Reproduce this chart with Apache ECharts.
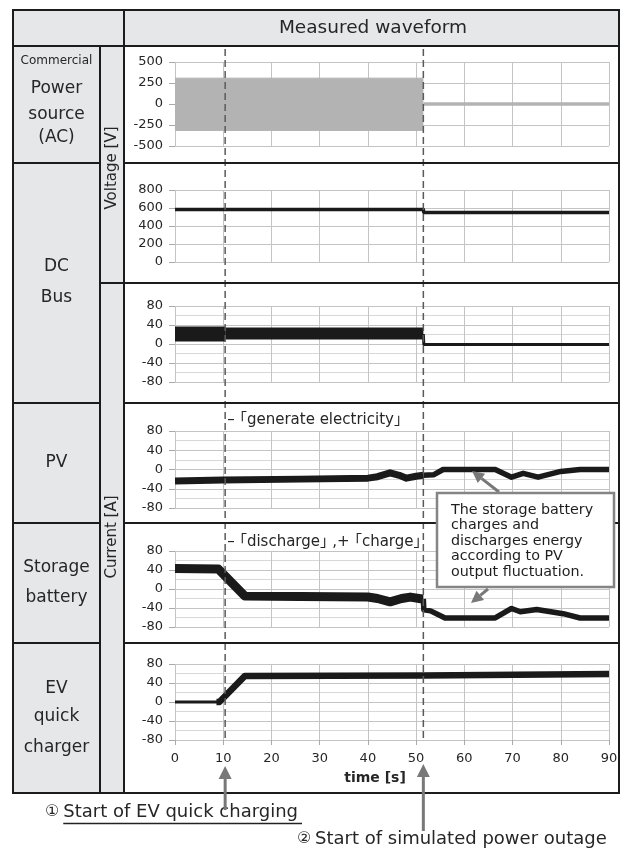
<!DOCTYPE html>
<html>
<head>
<meta charset="utf-8">
<title>Measured waveform</title>
<script src="https://cdn.jsdelivr.net/npm/echarts@6.0.0/dist/echarts.min.js"></script>
<style>
  html, body { margin: 0; padding: 0; background: #fff; }
  #chart { width: 625px; height: 849px; }
</style>
</head>
<body>
<div id="chart"></div>
<script>
// ---- data (time in s) ----
const timeTicks = [0, 10, 20, 30, 40, 50, 60, 70, 80, 90];
const evStartTime = 10.4;   // (1) start of EV quick charging
const outageTime = 51.5;    // (2) start of simulated power outage

const voltAcTicks = [-500, -250, 0, 250, 500];
const voltDcTicks = [0, 200, 400, 600, 800];
const currentTicks = [-80, -40, 0, 40, 80];

// commercial power source, AC voltage envelope [V] (grid on)
const acTime = [0, 51.5];
const acUpper = [308, 308];
const acLower = [-315, -315];
// residual AC voltage after the outage [V]
const acOffTime = [51.5, 90];
const acOffValue = [0, 0];

// DC bus voltage [V]
const dcVoltTime = [0, 51.5, 51.6, 90];
const dcVoltValue = [582, 582, 550, 550];

// DC bus current [A]
const busCurTimeA = [0, 10.4];
const busCurValueA = [21, 21];
const busCurTimeB = [10.4, 51.5];
const busCurValueB = [22, 22];
const busCurTimeC = [51.5, 51.6, 90];
const busCurValueC = [21, -1, -1];

// PV current [A]
const pvTimeA = [0, 10, 26, 40, 42, 44.6, 46.5, 48, 50, 51.5];
const pvValueA = [-24, -22, -20, -18, -15, -7, -12, -18, -14, -12];
const pvTimeB = [51.5, 53.6, 55.6, 66.4, 69.8, 72.2, 75.3, 80, 84, 90];
const pvValueB = [-12, -11, 0, 0, -16, -8, -16, -4, 0, 0];

// storage battery current [A]
const batTimeA = [0, 9, 14.5, 26, 40, 42, 44.6, 47, 48.8, 51.3, 51.5];
const batValueA = [43, 42, -15, -16, -17, -20, -27, -20, -17, -21, -21];
const batTimeB = [51.5, 51.6, 53, 56, 66.4, 69.8, 71.6, 75, 80.5, 84, 90];
const batValueB = [-21, -44, -46, -61, -61, -41, -48, -43, -52, -61, -61];

// EV quick charger current [A]
const evTimeA = [0, 9.2];
const evValueA = [0, 0];
const evTimeB = [8.6, 9.2, 14.5, 51.5, 51.6, 90];
const evValueB = [0, 0, 55, 56, 59, 59];

// ---- styling / layout ----
const FONT = '"DejaVu Sans", "Noto Sans CJK JP", sans-serif';
const INK = '#262626';
const TRACE = '#1a1a1a';
const AC_GRAY = '#b3b3b3';
const GRID_COLOR = '#c4c4c4';
const MINOR_COLOR = '#d8d8d8';
const CELL_BG = '#e6e7e8';
const RULE = '#1c1c1c';
const ARROW = '#787878';

const plotLeft = 175, plotWidth = 434;
const panels = [
  { top: 62, height: 84, ticks: voltAcTicks, minor: false },
  { top: 190, height: 72, ticks: voltDcTicks, minor: false },
  { top: 306, height: 76, ticks: currentTicks, minor: true },
  { top: 431, height: 77, ticks: currentTicks, minor: true },
  { top: 551, height: 76, ticks: currentTicks, minor: true },
  { top: 664, height: 76, ticks: currentTicks, minor: true }
];
const last = panels.length - 1;

const chart = echarts.init(document.getElementById('chart'));

const pts = (ts, vs) => ts.map((t, i) => [t, vs[i]]);

function trace(gi, ts, vs, width, color) {
  return {
    type: 'line', xAxisIndex: gi, yAxisIndex: gi,
    data: pts(ts, vs),
    symbol: 'none', showSymbol: false, silent: true, z: 3,
    lineStyle: { color: color || TRACE, width: width, join: 'round', cap: 'butt' }
  };
}

function band(gi, ts, vs) {
  return {
    type: 'line', xAxisIndex: gi, yAxisIndex: gi,
    data: pts(ts, vs),
    symbol: 'none', showSymbol: false, silent: true, z: 3,
    lineStyle: { color: AC_GRAY, width: 1 },
    areaStyle: { color: AC_GRAY, opacity: 1 }
  };
}

const option = {
  animation: false,
  backgroundColor: '#fff',
  grid: panels.map(p => ({ left: plotLeft, width: plotWidth, top: p.top, height: p.height })),
  xAxis: panels.map((p, i) => ({
    gridIndex: i, type: 'value',
    min: timeTicks[0], max: timeTicks[timeTicks.length - 1], interval: timeTicks[1] - timeTicks[0],
    axisLine: { show: false, onZero: false },
    axisTick: { show: i === last, length: 5, lineStyle: { color: '#aaa' } },
    axisLabel: { show: i === last, margin: 12, color: INK, fontSize: 13, fontFamily: FONT },
    splitLine: { show: true, lineStyle: { color: GRID_COLOR, width: 1 } }
  })),
  yAxis: panels.map((p, i) => ({
    gridIndex: i, type: 'value',
    min: p.ticks[0], max: p.ticks[p.ticks.length - 1], interval: p.ticks[1] - p.ticks[0],
    axisLine: { show: false, onZero: false },
    axisTick: { show: true, length: 6, lineStyle: { color: '#aaa' } },
    axisLabel: { margin: 12, color: INK, fontSize: 13, fontFamily: FONT },
    splitLine: { show: true, lineStyle: { color: GRID_COLOR, width: 1 } },
    minorTick: { show: false, splitNumber: 2 },
    minorSplitLine: { show: p.minor, lineStyle: { color: MINOR_COLOR, width: 1 } }
  })),
  series: [
    band(0, acTime, acUpper),
    band(0, acTime, acLower),
    trace(0, acOffTime, acOffValue, 3.5, AC_GRAY),
    trace(1, dcVoltTime, dcVoltValue, 3.5),
    trace(2, busCurTimeA, busCurValueA, 15),
    trace(2, busCurTimeB, busCurValueB, 12),
    trace(2, busCurTimeC, busCurValueC, 3),
    trace(3, pvTimeA, pvValueA, 7),
    trace(3, pvTimeB, pvValueB, 5.5),
    trace(4, batTimeA, batValueA, 9),
    trace(4, batTimeB, batValueB, 5.5),
    trace(5, evTimeA, evValueA, 3),
    trace(5, evTimeB, evValueB, 6.5)
  ]
};
chart.setOption(option);

// ---- table, annotations ----
function text(x, y, str, size, extra) {
  const o = extra || {};
  const align = o.align || 'center';
  return {
    type: 'text', x: x, y: y, z: o.z || 15, rotation: o.rotation || 0,
    style: {
      text: str,
      font: (o.weight || 'normal') + ' ' + size + 'px ' + FONT,
      fill: o.color || INK,
      align: align, verticalAlign: 'middle',
      textAlign: align, textVerticalAlign: 'middle'
    }
  };
}
function rule(x1, y1, x2, y2, extra) {
  const o = extra || {};
  return {
    type: 'line', z: o.z || 14, silent: true,
    shape: { x1: x1, y1: y1, x2: x2, y2: y2 },
    style: { stroke: o.color || RULE, lineWidth: o.width || 2, lineDash: o.dash || null }
  };
}
function rect(x, y, w, h, style, z) {
  return { type: 'rect', z: z, silent: true, shape: { x: x, y: y, width: w, height: h }, style: style };
}
function arrow(x1, y1, x2, y2, headLen, headHalf) {
  const dx = x2 - x1, dy = y2 - y1, len = Math.hypot(dx, dy);
  const ux = dx / len, uy = dy / len;
  const bx = x2 - ux * headLen, by = y2 - uy * headLen;
  return [
    rule(x1, y1, bx, by, { color: ARROW, width: 3, z: 16 }),
    {
      type: 'polygon', z: 16, silent: true,
      shape: { points: [[x2, y2], [bx - uy * headHalf, by + ux * headHalf], [bx + uy * headHalf, by - ux * headHalf]] },
      style: { fill: ARROW }
    }
  ];
}
const measure = (() => {
  const ctx = document.createElement('canvas').getContext('2d');
  return (str, size) => { ctx.font = size + 'px ' + FONT; return ctx.measureText(str).width; };
})();

const L = 13, R = 619, T = 10, B = 793, C1 = 100, C2 = 124;
const rows = [46, 163, 283, 403, 523, 643];
const xEv = chart.convertToPixel({ xAxisIndex: 0 }, evStartTime);
const xOut = chart.convertToPixel({ xAxisIndex: 0 }, outageTime);

const g = [];
// cell backgrounds
g.push(rect(L, T, R - L, rows[0] - T, { fill: CELL_BG }, -5));
g.push(rect(L, rows[0], C2 - L, B - rows[0], { fill: CELL_BG }, -5));

// dashed event markers
g.push(rule(xEv, 49, xEv, 742, { color: '#5a5a5a', width: 1.5, dash: [7, 4], z: 10 }));
g.push(rule(xOut, 49, xOut, 742, { color: '#5a5a5a', width: 1.5, dash: [7, 4], z: 10 }));

// table rules
g.push(rect(L, T, R - L, B - T, { fill: null, stroke: RULE, lineWidth: 2 }, 14));
g.push(rule(L, rows[0], R, rows[0]));
g.push(rule(C1, rows[0], C1, B));
g.push(rule(C2, T, C2, B));
g.push(rule(L, rows[1], C1, rows[1]));
g.push(rule(C2, rows[1], R, rows[1]));
g.push(rule(C1, rows[2], R, rows[2]));
[rows[3], rows[4], rows[5]].forEach(y => {
  g.push(rule(L, y, C1, y));
  g.push(rule(C2, y, R, y));
});

// header
g.push(text(373, 28, 'Measured waveform', 18.5));

// row labels
const cx = 56.5;
g.push(text(cx, 61, 'Commercial', 12));
g.push(text(cx, 89, 'Power', 17));
g.push(text(cx, 115, 'source', 17));
g.push(text(cx, 138, '(AC)', 17));
g.push(text(cx, 267, 'DC', 17));
g.push(text(cx, 298, 'Bus', 17));
g.push(text(cx, 463, 'PV', 17));
g.push(text(cx, 568, 'Storage', 17));
g.push(text(cx, 598, 'battery', 17));
g.push(text(cx, 689, 'EV', 17));
g.push(text(cx, 717, 'quick', 17));
g.push(text(cx, 748, 'charger', 17));

// unit column
g.push(text(112, 168, 'Voltage [V]', 15, { rotation: Math.PI / 2 }));
g.push(text(112, 537, 'Current [A]', 15, { rotation: Math.PI / 2 }));

// panel notes
g.push(text(xEv + 2, 420, '– ｢generate electricity｣', 15, { align: 'left' }));
g.push(text(xEv + 2, 542, '– ｢discharge｣ ,+ ｢charge｣', 15, { align: 'left' }));

// callout box
g.push(rect(437, 493, 177, 94, { fill: '#fff', stroke: '#858585', lineWidth: 2.5 }, 17));
['The storage battery', 'charges and', 'discharges energy', 'according to PV', 'output fluctuation.']
  .forEach((s, i) => g.push(text(451, 510 + i * 15.5, s, 14.3, { align: 'left', color: '#1e1e1e', z: 18 })));
arrow(499, 492, 472, 471, 12, 6).forEach(e => g.push(e));
arrow(488, 589, 471, 603, 12, 6).forEach(e => g.push(e));

// axis title
g.push(text(375, 778, 'time [s]', 14, { weight: 'bold' }));

// event arrows and captions
arrow(xEv, 810, xEv, 766, 13, 6.5).forEach(e => g.push(e));
arrow(xOut, 831, xOut, 764, 13, 6.5).forEach(e => g.push(e));

const capSize = 18;
const cap1 = 'Start of EV quick charging';
const cap1End = 298;
const cap1Start = cap1End - measure(cap1, capSize);
g.push(text(cap1Start, 812, cap1, capSize, { align: 'left' }));
g.push(text(cap1Start - 4, 812, '①', 16, { align: 'right' }));
g.push(rule(cap1Start, 823.5, cap1End + 4, 823.5, { color: '#222', width: 1.3 }));

g.push(text(297, 839, '②', 16, { align: 'left' }));
g.push(text(315, 839, 'Start of simulated power outage', capSize, { align: 'left' }));

chart.setOption({ graphic: { elements: g } });
</script>
</body>
</html>
